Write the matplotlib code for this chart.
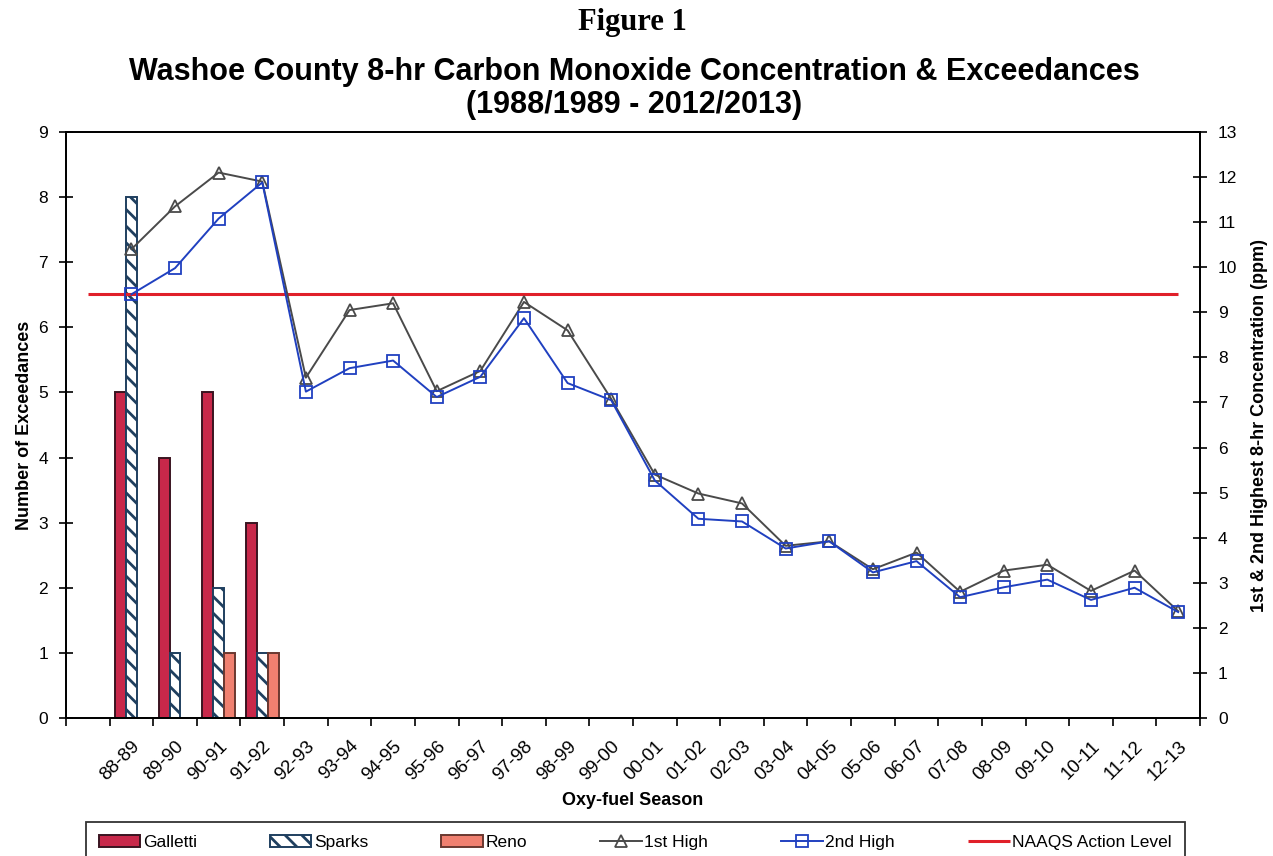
import numpy as np
import matplotlib
matplotlib.use("Agg")
import matplotlib.pyplot as plt
from matplotlib.ticker import FixedLocator

plt.rcParams['font.family'] = ['Liberation Sans', 'DejaVu Sans']
plt.rcParams['hatch.linewidth'] = 2.0

seasons = ['88-89', '89-90', '90-91', '91-92', '92-93', '93-94', '94-95', '95-96',
           '96-97', '97-98', '98-99', '99-00', '00-01', '01-02', '02-03', '03-04',
           '04-05', '05-06', '06-07', '07-08', '08-09', '09-10', '10-11', '11-12', '12-13']

# exceedances (left axis), only the first four seasons have any
galletti = [5, 4, 5, 3]
sparks = [8, 1, 2, 1]
reno = [0, 0, 1, 1]

# ppm (right axis)
first_high = [10.4, 11.35, 12.1, 11.9, 7.55, 9.05, 9.2, 7.25, 7.7, 9.23, 8.6, 7.08,
              5.4, 4.98, 4.76, 3.82, 3.92, 3.3, 3.67, 2.8, 3.27, 3.4, 2.82, 3.27, 2.37]
second_high = [9.4, 9.98, 11.08, 11.88, 7.24, 7.76, 7.93, 7.12, 7.57, 8.87, 7.43, 7.05,
               5.27, 4.42, 4.36, 3.76, 3.92, 3.23, 3.48, 2.68, 2.9, 3.07, 2.62, 2.89, 2.35]
naaqs_level = 9.4

x = np.arange(len(seasons))
xb = np.arange(len(galletti))

fig = plt.figure(figsize=(12.73, 8.56), dpi=100)
ax = fig.add_axes([66/1273, 1-718/856, (1200-66)/1273, (718-132)/856])
ax2 = ax.twinx()

w = 0.25
ax.bar(xb - w, galletti, w, color='#c8284a', edgecolor='#3a1420', linewidth=1.4, label='Galletti')
ax.bar(xb, sparks, w, color='white', edgecolor='#1f3f5f', hatch='\\\\', linewidth=1.4, label='Sparks')
ax.bar(xb + w, reno, w, color='#f08070', edgecolor='#6a3830', linewidth=1.4, label='Reno')

ax.set_xlim(-1.5, len(seasons) - 0.5)
ax.set_ylim(0, 9)
ax.set_yticks(range(10))
ax.set_xticks(x)
ax.set_xticklabels(seasons, rotation=45, ha='right', rotation_mode='anchor', fontsize=13.5)
ax.xaxis.set_minor_locator(FixedLocator(np.arange(-1.5, len(seasons), 1)))
ax.tick_params(axis='x', which='major', length=0, pad=14)
ax.tick_params(axis='x', which='minor', length=6, direction='out', width=1.2)
ax.tick_params(axis='y', direction='inout', length=10, width=1.2, labelsize=12.5, pad=8)
ax.set_ylabel('Number of Exceedances', fontsize=13, fontweight='bold', labelpad=4)
ax.set_xlabel('Oxy-fuel Season', fontsize=13, fontweight='bold', labelpad=6)

ax2.hlines(naaqs_level, -1, len(seasons) - 1, color='#e0202a', linewidth=2.2, label='NAAQS Action Level')
ax2.plot(x, first_high, color='#4a4a4a', linewidth=1.4, marker='^', markersize=9,
         markerfacecolor='none', markeredgecolor='#4a4a4a', markeredgewidth=1.3, label='1st High')
ax2.plot(x, second_high, color='#2040c0', linewidth=1.4, marker='s', markersize=8,
         markerfacecolor='none', markeredgecolor='#2040c0', markeredgewidth=1.3, label='2nd High')
ax2.set_ylim(0, 13)
ax2.set_yticks(range(14))
ax2.tick_params(axis='y', direction='inout', length=10, width=1.2, labelsize=12.5, pad=8)
ax2.set_ylabel('1st & 2nd Highest 8-hr Concentration (ppm)', fontsize=13, fontweight='bold', labelpad=10)

for a in (ax, ax2):
    for s in a.spines.values():
        s.set_linewidth(1.3)

fig.text(0.497, 0.974, 'Figure 1', ha='center', va='center', fontsize=22,
         fontweight='bold', family='Liberation Serif')
fig.text(0.498, 0.916, 'Washoe County 8-hr Carbon Monoxide Concentration & Exceedances',
         ha='center', va='center', fontsize=22, fontweight='bold')
fig.text(0.498, 0.877, '(1988/1989 - 2012/2013)', ha='center', va='center',
         fontsize=22, fontweight='bold')

h1, l1 = ax.get_legend_handles_labels()
h2, l2 = ax2.get_legend_handles_labels()
hd = dict(zip(l1 + l2, h1 + h2))
order = ['Galletti', 'Sparks', 'Reno', '1st High', '2nd High', 'NAAQS Action Level']
leg = fig.legend([hd[k] for k in order], order, loc='upper center', bbox_to_anchor=(0.499, 0.040),
                 ncol=6, fontsize=12.5, frameon=True, fancybox=False, edgecolor='black',
                 columnspacing=4.2, handlelength=2.4, handletextpad=0.15, borderpad=0.75,
                 borderaxespad=0)
leg.get_frame().set_linewidth(1.3)

fig.savefig('out.png', dpi=100)
